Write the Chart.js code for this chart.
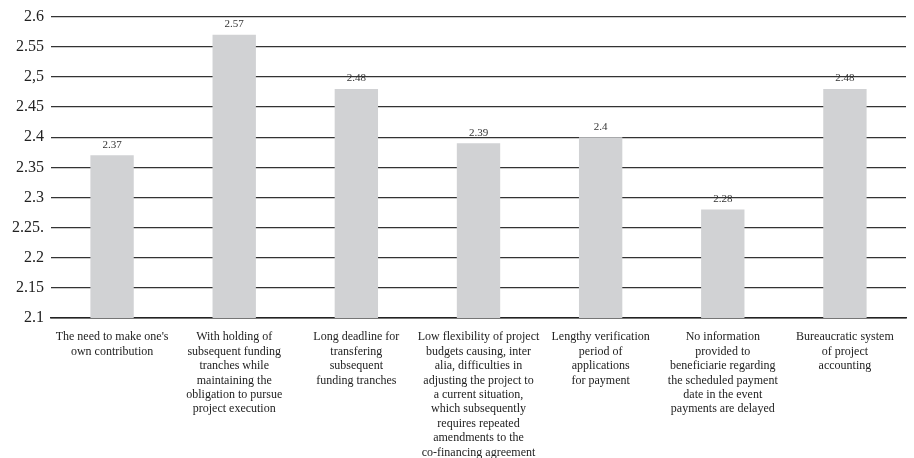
<!DOCTYPE html>
<html>
<head>
<meta charset="utf-8">
<script src="https://cdn.jsdelivr.net/npm/chart.js@4.4.1/dist/chart.umd.min.js"></script>
<style>
    html, body { margin: 0; padding: 0; background: #ffffff; }
    #wrap { width: 914px; height: 458px; }
</style>
</head>
<body>
<div id="wrap"><canvas id="barChart"></canvas></div>
<script>
const categories = [
    ["The need to make one's", "own contribution"],
    ["With holding of", "subsequent funding", "tranches while", "maintaining the", "obligation to pursue", "project execution"],
    ["Long deadline for", "transfering", "subsequent", "funding tranches"],
    ["Low flexibility of project", "budgets causing, inter", "alia, difficulties in", "adjusting the project to", "a current situation,", "which subsequently", "requires repeated", "amendments to the", "co-financing agreement"],
    ["Lengthy verification", "period of", "applications", "for payment"],
    ["No information", "provided to", "beneficiarie regarding", "the scheduled payment", "date in the event", "payments are delayed"],
    ["Bureaucratic system", "of project", "accounting"]
];

const scores = [2.37, 2.57, 2.48, 2.39, 2.4, 2.28, 2.48];

const tickValues = [2.1, 2.15, 2.2, 2.25, 2.3, 2.35, 2.4, 2.45, 2.5, 2.55, 2.6];
const tickLabels = ["2.1", "2.15", "2.2", "2.25.", "2.3", "2.35", "2.4", "2.45", "2,5", "2.55", "2.6"];

const serif = "'Liberation Serif', 'Times New Roman', serif";

// value printed above each bar
const valueLabels = {
    id: "valueLabels",
    afterDatasetsDraw(chart) {
        const ctx = chart.ctx;
        const meta = chart.getDatasetMeta(0);
        ctx.save();
        ctx.font = "11px " + serif;
        ctx.fillStyle = "#333333";
        ctx.textAlign = "center";
        ctx.textBaseline = "bottom";
        meta.data.forEach((bar, i) => {
            ctx.fillText(String(scores[i]), bar.x, bar.y - 5);
        });
        ctx.restore();
    }
};

new Chart(document.getElementById("barChart"), {
    type: "bar",
    data: {
        labels: categories,
        datasets: [{
            data: scores,
            backgroundColor: "#d1d2d4",
            borderWidth: 0,
            categoryPercentage: 1,
            barPercentage: 0.355
        }]
    },
    options: {
        responsive: true,
        maintainAspectRatio: false,
        animation: false,
        layout: {
            padding: { top: 15, right: 8, left: 0, bottom: 0 }
        },
        plugins: {
            legend: { display: false },
            tooltip: { enabled: false }
        },
        scales: {
            x: {
                z: 1,
                grid: { display: false },
                border: { display: true, color: "#222222", width: 1.5 },
                ticks: {
                    color: "#222222",
                    font: { family: serif, size: 12, lineHeight: 1.2 },
                    padding: 4,
                    maxRotation: 0,
                    autoSkip: false
                },
                afterFit(scale) { scale.height = 140; }
            },
            y: {
                min: 2.1,
                max: 2.6,
                border: { display: false },
                grid: {
                    color: "#333333",
                    lineWidth: 1.2,
                    drawTicks: false
                },
                ticks: {
                    color: "#222222",
                    font: { family: serif, size: 16 },
                    padding: 7,
                    callback: (value, index) => tickLabels[index]
                },
                afterBuildTicks(scale) {
                    scale.ticks = tickValues.map(v => ({ value: v }));
                },
                afterFit(scale) { scale.width = 51; }
            }
        }
    },
    plugins: [valueLabels]
});
</script>
</body>
</html>
